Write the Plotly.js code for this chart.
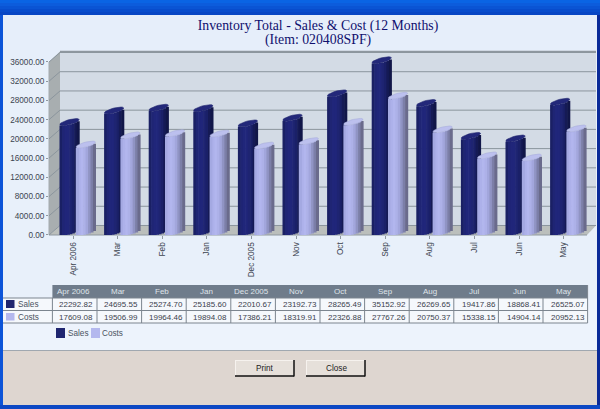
<!DOCTYPE html>
<html><head><meta charset="utf-8">
<script src="https://cdn.plot.ly/plotly-3.0.1.min.js"></script>
<style>html,body{margin:0;padding:0;background:#e8f0fa}#c{width:600px;height:409px}</style>
</head><body><div id="c"></div>
<script>
const categories = ["Apr 2006","Mar","Feb","Jan","Dec 2005","Nov","Oct","Sep","Aug","Jul","Jun","May"];
const sales = [22292.82,24695.55,25274.70,25185.60,22010.67,23192.73,28265.49,35152.92,26269.65,19417.86,18868.41,26525.07];
const costs = [17609.08,19506.99,19964.46,19894.08,17386.21,18319.91,22326.88,27767.26,20750.37,15338.15,14904.14,20952.13];
const salesLabels = ["22292.82","24695.55","25274.70","25185.60","22010.67","23192.73","28265.49","35152.92","26269.65","19417.86","18868.41","26525.07"];
const costsLabels = ["17609.08","19506.99","19964.46","19894.08","17386.21","18319.91","22326.88","27767.26","20750.37","15338.15","14904.14","20952.13"];
const tickVals = [0,4000,8000,12000,16000,20000,24000,28000,32000,36000];
const tickText = ["0.00","4000.00","8000.00","12000.00","16000.00","20000.00","24000.00","28000.00","32000.00","36000.00"];
const salesShades = ["#1a2064","#1f2574","#20267a","#20267a","#1e2472","#1a2068","#151a55","#111648"];
const costsShades = ["#a4a9e2","#adb1ea","#b2b6ee","#adb1e8","#a2a6dc","#9094c4","#7c7fa8","#6a6b8c"];

const L=49,R=587,T=62,B=235,W=R-L,H=B-T;
const xStep=44.6, yPerPx=36000/H;
const topVal=40000, plotTop=B-topVal/yPerPx;
const px=x=>x/600, py=y=>(409-y)/409;
const sh=[];
function rect(x0,y0,x1,y1,c,extra){sh.push(Object.assign({type:'rect',xref:'paper',yref:'paper',x0:px(x0),x1:px(x1),y0:py(y0),y1:py(y1),fillcolor:c,line:{width:0},layer:'below'},extra||{}));}
function poly(p,c,extra){sh.push(Object.assign({type:'path',xref:'paper',yref:'paper',path:'M'+p.map(q=>px(q[0])+','+py(q[1])).join('L')+'Z',fillcolor:c,line:{width:0},layer:'below'},extra||{}));}
function seg(x0,y0,x1,y1,c,w,layer){sh.push({type:'line',xref:'paper',yref:'paper',x0:px(x0),x1:px(x1),y0:py(y0),y1:py(y1),line:{color:c,width:w||1},layer:layer||'below'});}

// window chrome
rect(0,0,600,409,'#e8f0fa');
rect(3,15,597,60,'#e6eefa');
rect(3,300,597,350,'#edf3fc');
["#0a64e4","#0c5cdc","#0a54d4","#084ccc","#0846c4"].forEach((c,i)=>rect(0,i*3,600,i*3+3,c));
rect(0,15,3,409,'#0c54d8');
rect(597,15,600,409,'#0a2a98');
rect(3,350,597,405,'#ded6d0');
seg(3,350.5,597,350.5,'#a0a8b0',1);
rect(0,405,600,409,'#0c48c4');
// walls
const dx=11, dy=9.5;
rect(L+dx,T-dy-1,R+9,B-dy,'#d3dbe5');
poly([[L,T],[L+dx,T-dy-1],[L+dx,B-dy],[L,B]],'#a8aeb0');
poly([[L,B],[L+dx,B-dy],[R+9,B-dy],[R,B]],'#bbbfbc');
seg(L+dx,T-dy-1,R+9,T-dy-1,'#8e979f',1.5);
seg(L,B,R,B,'#8e979f',1);
seg(L,T,L,B,'#a4aaae',1);
tickVals.forEach(v=>{
  sh.push({type:'line',xref:'paper',yref:'y',x0:px(L+dx),x1:px(R+9),y0:v+dy*yPerPx,y1:v+dy*yPerPx,line:{color:'#8b959d',width:1},layer:'below'});
  sh.push({type:'line',xref:'paper',yref:'y',x0:px(L),x1:px(L+dx),y0:v,y1:v+dy*yPerPx,line:{color:'#8b959d',width:1},layer:'below'});
});
// data table frame
const colLeft=52.4, colStep=44.6, rowY=[285,298,310.5,323];
rect(colLeft,rowY[0],colLeft+12*colStep,rowY[1],'#6f7c8b');
rect(3,rowY[1],colLeft+12*colStep,rowY[3],'#f5f8fc');
[rowY[1],rowY[2],rowY[3]].forEach(y=>seg(3,y,colLeft+12*colStep,y,'#7c858f',1));
categories.forEach((_,i)=>seg(colLeft+i*colStep,rowY[1],colLeft+i*colStep,rowY[3],'#7c858f',1));
seg(colLeft+12*colStep,rowY[0],colLeft+12*colStep,rowY[3],'#7c858f',1);
// table swatches, legend swatches, buttons
rect(6,300,14.5,308,'#1f2570');
rect(6,313,14.5,320.5,'#b4b8ee');
rect(56,328,65,338,'#1f2570');
rect(91,328,100,338,'#b4b8ee');
[[235,294],[306,365]].forEach(b=>{
  rect(b[0],360,b[1],376,'#e6e0da');
  seg(b[0],360.5,b[1],360.5,'#f6f2ee',1);
  seg(b[0]+.5,360,b[0]+.5,376,'#f6f2ee',1);
  seg(b[0],376,b[1],376,'#111111',1.5);
  seg(b[1],360,b[1],376.5,'#111111',1.5);
});

const traces=[];
const hw=9.8, slope=2.4, minor=2.5, rise=5.8;
function cylinder(vals,centerPx,shades,capColor,edge,name){
  const n=shades.length, cOff=centerPx/xStep;
  shades.forEach((col,k)=>{
    const left=-hw+2*hw*k/n, mid=left+hw/n, u=mid/hw;
    const lower=slope*u-minor*Math.sqrt(1-u*u);
    const topLift=(lower+rise)*yPerPx;
    const bottom=(lower+3)*yPerPx;
    traces.push({type:'bar',name:name,showlegend:false,x:vals.map((_,i)=>i),
      y:vals.map(v=>v+topLift-bottom),
      base:vals.map(()=>bottom),
      offset:cOff+(left-0.2)/xStep,width:(2*hw/n+0.6)/xStep,
      marker:{color:col,line:{width:0}},cliponaxis:false,hoverinfo:'skip'});
  });
  const cx=[],cy=[];
  vals.forEach((v,i)=>{
    for(let a=0;a<=24;a++){
      const t=a/24*2*Math.PI;
      const ddx=hw*Math.cos(t), ddy=slope*Math.cos(t)+minor*Math.sin(t)+rise;
      cx.push(i+cOff+ddx/xStep); cy.push(v+ddy*yPerPx);
    }
    cx.push(null);cy.push(null);
  });
  traces.push({type:'scatter',mode:'lines',x:cx,y:cy,fill:'toself',fillcolor:capColor,
    line:{color:edge,width:0.6},showlegend:false,hoverinfo:'skip',cliponaxis:false});
}
cylinder(sales,-3.5,salesShades,'#23287a','#20256e','Sales');
cylinder(costs,12.8,costsShades,'#bcc0ee','#a8acdc','Costs');

const note=(x,y,t,sz,col,fam)=>({xref:'paper',yref:'paper',x:px(x),y:py(y),text:t,showarrow:false,xanchor:'center',yanchor:'middle',borderpad:0,font:{family:fam||'Liberation Sans',size:sz,color:col}});
const cellFont=8, cellCol='#3a414c';
const tableNotes=[];
categories.forEach((c,i)=>{
  tableNotes.push(note(73+colStep*i,291.7,c,cellFont,'#dfe4ea'));
  tableNotes.push(note(76+44.75*i,304.3,salesLabels[i],cellFont,cellCol));
  tableNotes.push(note(76+44.75*i,317,costsLabels[i],cellFont,cellCol));
});
const layout={width:600,height:409,margin:{l:0,r:0,t:0,b:0,pad:0},
  paper_bgcolor:'#e8f0fa',plot_bgcolor:'rgba(0,0,0,0)',barmode:'overlay',showlegend:false,hovermode:false,
  title:{text:'Inventory Total - Sales &amp; Cost (12 Months)',x:318/600,xanchor:'center',y:py(25),yanchor:'middle',
    font:{family:'Liberation Serif',size:13.8,color:'#10106e'}},
  xaxis:{domain:[L/600,R/600],range:[(L-73)/xStep,(R-73)/xStep],tickmode:'array',tickvals:categories.map((_,i)=>i),ticktext:categories,tickangle:-90,
    ticks:'outside',ticklen:3,tickcolor:'#8e979f',showgrid:false,zeroline:false,showline:false,
    tickfont:{family:'Liberation Sans',size:8.2,color:'#3c4450'}},
  yaxis:{domain:[(409-B)/409,(409-plotTop)/409],range:[0,topVal],tickmode:'array',tickvals:tickVals,ticktext:tickText,ticks:'outside',ticklen:2,tickcolor:'#8e979f',
    showgrid:false,zeroline:false,showline:false,tickfont:{family:'Liberation Sans',size:8.2,color:'#3c4450'}},
  shapes:sh,
  annotations:[note(318,40,'(Item: 020408SPF)',13.8,'#10106e','Liberation Serif'),
    note(28,304.3,'Sales',8.2,'#4a5260'),note(28,317,'Costs',8.2,'#4a5260'),
    note(77.5,333,'Sales',8.2,'#4a5260'),note(112,333,'Costs',8.2,'#4a5260'),
    note(265,368,'Print',8.2,'#222222'),note(336,368,'Close',8.2,'#222222')].concat(tableNotes)
};
Plotly.newPlot('c',traces,layout,{displayModeBar:false,responsive:false});
</script></body></html>
